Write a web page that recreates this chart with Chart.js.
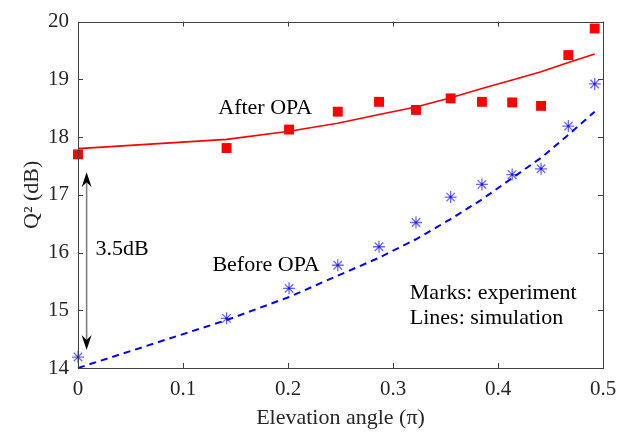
<!DOCTYPE html>
<html>
<head>
<meta charset="utf-8">
<script src="https://cdn.jsdelivr.net/npm/chart.js@4/dist/chart.umd.min.js"></script>
<style>
  html, body { margin: 0; padding: 0; background: #fff; }
  #wrap { width: 629px; height: 432px; }
</style>
</head>
<body>
<div id="wrap"><canvas id="myChart" width="629" height="432"></canvas></div>
<script>
// elevation angle (in units of pi) for every measurement / simulation point
var angles = [0, 0.1415, 0.201, 0.2474, 0.2867, 0.3219, 0.3549, 0.3847, 0.4135, 0.441, 0.467, 0.4921];

// Q^2 in dB
var afterMeasured   = [17.70, 17.81, 18.13, 18.44, 18.61, 18.47, 18.67, 18.61, 18.60, 18.54, 19.42, 19.88];
var beforeMeasured  = [14.19, 14.86, 15.38, 15.78, 16.10, 16.52, 16.96, 17.18, 17.35, 17.45, 18.19, 18.92];
var afterSimulated  = [17.80, 17.96, 18.10, 18.24, 18.39, 18.52, 18.68, 18.84, 18.99, 19.13, 19.29, 19.44];
var beforeSimulated = [14.00, 14.83, 15.23, 15.60, 15.91, 16.23, 16.58, 16.92, 17.29, 17.64, 18.04, 18.44];

// axis ticks
var xTicks = [0, 0.1, 0.2, 0.3, 0.4, 0.5];
var yTicks = [14, 15, 16, 17, 18, 19, 20];

function pairs(xs, ys) {
  return xs.map(function (x, i) { return { x: x, y: ys[i] }; });
}

var serif = "'Liberation Serif', 'Times New Roman', serif";
var axisColor = "#404040";
var labelColor = "#262626";

// box around the plot, inward ticks on all four sides, text notes and the 3.5dB arrow
var framePlugin = {
  id: "frame",
  afterDatasetsDraw: function (chart) {
    var ctx = chart.ctx;
    var xs = chart.scales.x, ys = chart.scales.y;
    ctx.save();

    // double arrow between the two curves at angle 0
    var ax = xs.getPixelForValue(0.0082);
    var aTop = ys.getPixelForValue(17.39);
    var aBot = ys.getPixelForValue(14.31);
    ctx.strokeStyle = "#808080";
    ctx.lineWidth = 1.6;
    ctx.beginPath();
    ctx.moveTo(ax, aTop + 8);
    ctx.lineTo(ax, aBot - 8);
    ctx.stroke();
    ctx.fillStyle = "#000";
    ctx.beginPath();
    ctx.moveTo(ax, aTop);
    ctx.lineTo(ax - 5, aTop + 15);
    ctx.lineTo(ax, aTop + 10);
    ctx.lineTo(ax + 5, aTop + 15);
    ctx.closePath();
    ctx.fill();
    ctx.beginPath();
    ctx.moveTo(ax, aBot);
    ctx.lineTo(ax - 5, aBot - 15);
    ctx.lineTo(ax, aBot - 10);
    ctx.lineTo(ax + 5, aBot - 15);
    ctx.closePath();
    ctx.fill();

    // text notes
    var notes = [
      { text: "After OPA", x: 0.1336, y: 18.50 },
      { text: "Before OPA", x: 0.128, y: 15.78 },
      { text: "3.5dB", x: 0.0166, y: 16.05 },
      { text: "Marks: experiment", x: 0.316, y: 15.30 },
      { text: "Lines: simulation", x: 0.316, y: 14.87 }
    ];
    ctx.font = "22px " + serif;
    ctx.textAlign = "left";
    ctx.textBaseline = "middle";
    ctx.fillStyle = "#000";
    notes.forEach(function (n) {
      ctx.fillText(n.text, xs.getPixelForValue(n.x), ys.getPixelForValue(n.y));
    });

    // frame
    var a = chart.chartArea;
    ctx.strokeStyle = axisColor;
    ctx.lineWidth = 1;
    ctx.strokeRect(Math.round(a.left) + 0.5, Math.round(a.top) + 0.5,
                   Math.round(a.right - a.left), Math.round(a.bottom - a.top));
    var tl = 5;
    ctx.beginPath();
    xTicks.forEach(function (v) {
      var px = Math.round(xs.getPixelForValue(v)) + 0.5;
      ctx.moveTo(px, a.bottom); ctx.lineTo(px, a.bottom - tl);
      ctx.moveTo(px, a.top); ctx.lineTo(px, a.top + tl);
    });
    yTicks.forEach(function (v) {
      var py = Math.round(ys.getPixelForValue(v)) + 0.5;
      ctx.moveTo(a.left, py); ctx.lineTo(a.left + tl, py);
      ctx.moveTo(a.right, py); ctx.lineTo(a.right - tl, py);
    });
    ctx.stroke();
    ctx.restore();
  }
};

var ctx = document.getElementById("myChart").getContext("2d");

var myChart = new Chart(ctx, {
  type: "scatter",
  data: {
    datasets: [
      {
        label: "After OPA (simulation)",
        data: pairs(angles, afterSimulated),
        showLine: true,
        borderColor: "#ff0000",
        borderWidth: 1.6,
        pointRadius: 0,
        fill: false,
        clip: false
      },
      {
        label: "Before OPA (simulation)",
        data: pairs(angles, beforeSimulated),
        showLine: true,
        borderColor: "#0000ff",
        borderWidth: 2,
        borderDash: [7, 5],
        pointRadius: 0,
        fill: false,
        clip: false
      },
      {
        label: "After OPA (experiment)",
        data: pairs(angles, afterMeasured),
        pointStyle: "rect",
        pointRadius: 7,
        backgroundColor: "#ff0000",
        borderWidth: 0,
        clip: false
      },
      {
        label: "Before OPA (experiment)",
        data: pairs(angles, beforeMeasured),
        pointStyle: "star",
        pointRadius: 6,
        borderColor: "rgba(40, 40, 255, 0.7)",
        backgroundColor: "rgba(0, 0, 0, 0)",
        borderWidth: 1.3,
        clip: false
      },
      {
        // dark centre dot of the asterisk markers
        label: "centre",
        data: pairs(angles, beforeMeasured),
        pointStyle: "circle",
        pointRadius: 1.3,
        backgroundColor: "#0000c0",
        borderWidth: 0,
        clip: false
      }
    ]
  },
  options: {
    responsive: false,
    animation: false,
    layout: { padding: { top: 16, right: 26, left: 0, bottom: 0 } },
    plugins: { legend: { display: false }, tooltip: { enabled: false } },
    scales: {
      x: {
        type: "linear",
        min: 0,
        max: 0.5,
        afterBuildTicks: function (s) { s.ticks = xTicks.map(function (v) { return { value: v }; }); },
        afterFit: function (s) { s.height = 64; },
        grid: { display: false, drawTicks: false },
        border: { display: false },
        ticks: {
          padding: 9,
          color: labelColor,
          font: { family: serif, size: 21 },
          callback: function (v) { return String(v); }
        },
        title: {
          display: true,
          text: "Elevation angle (π)",
          color: labelColor,
          font: { family: serif, size: 22 },
          padding: { top: 0, bottom: 1 }
        }
      },
      y: {
        type: "linear",
        min: 14,
        max: 20,
        afterBuildTicks: function (s) { s.ticks = yTicks.map(function (v) { return { value: v }; }); },
        afterFit: function (s) { s.width = 78; },
        grid: { display: false, drawTicks: false },
        border: { display: false },
        ticks: {
          padding: 9,
          color: labelColor,
          font: { family: serif, size: 21 }
        },
        title: {
          display: true,
          text: "Q² (dB)",
          color: labelColor,
          font: { family: serif, size: 22 },
          padding: { top: 19, bottom: 0 }
        }
      }
    }
  },
  plugins: [framePlugin]
});
</script>
</body>
</html>
